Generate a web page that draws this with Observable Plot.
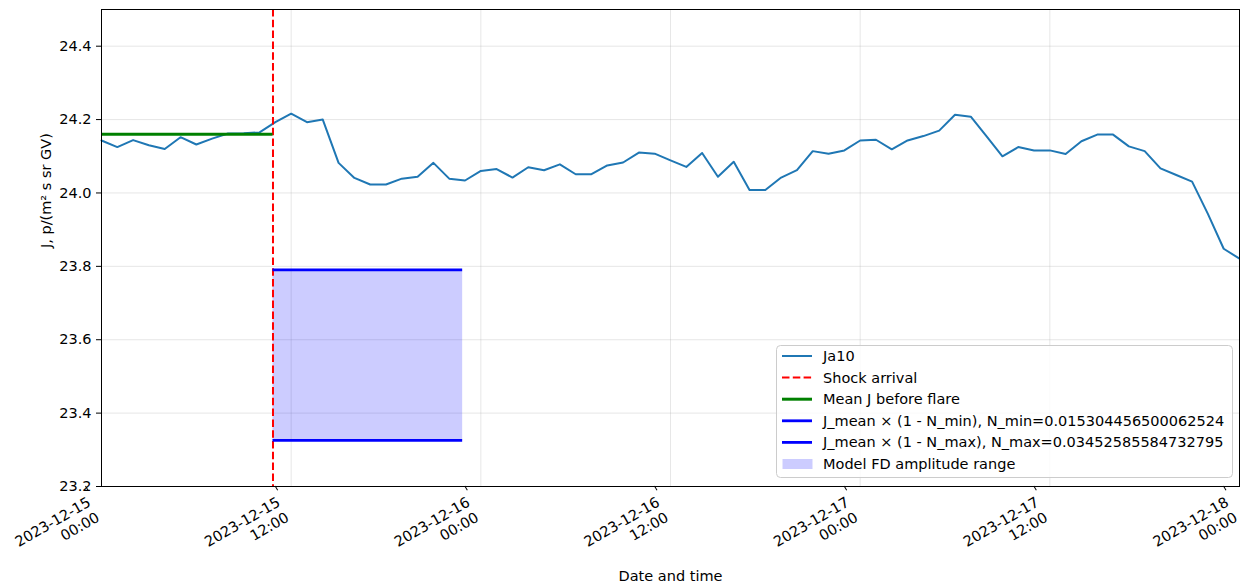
<!DOCTYPE html>
<html>
<head>
<meta charset="utf-8">
<script src="https://cdn.jsdelivr.net/npm/d3@7"></script>
<script src="https://cdn.jsdelivr.net/npm/@observablehq/plot@0.6"></script>
<style>
  html, body { margin: 0; padding: 0; background: #fff; }
  #chart { width: 1240px; height: 584px; overflow: hidden; }
</style>
</head>
<body>
<div id="chart"></div>
<script>
// ---------------- data ----------------
const seriesStart = "2023-12-15T00:00:00Z"; // hourly samples
const ja10Values = [
  24.143, 24.125, 24.144, 24.130, 24.120, 24.152, 24.132, 24.148, 24.162, 24.163,
  24.165, 24.193, 24.216, 24.193, 24.200, 24.082, 24.041, 24.023, 24.023, 24.039,
  24.044, 24.082, 24.039, 24.034, 24.060, 24.065, 24.042, 24.070, 24.062, 24.078,
  24.051, 24.051, 24.075, 24.083, 24.110, 24.107, 24.089, 24.071, 24.109, 24.044,
  24.085, 24.008, 24.008, 24.042, 24.062, 24.114, 24.107, 24.116, 24.143, 24.145,
  24.119, 24.143, 24.155, 24.170, 24.213, 24.208, 24.154, 24.100, 24.125, 24.116,
  24.116, 24.106, 24.141, 24.159, 24.159, 24.127, 24.114, 24.067, 24.049, 24.031,
  23.943, 23.848, 23.821
];
const shockArrival = "2023-12-15T10:51:00Z";
const fdWindowEnd = "2023-12-15T22:51:00Z";
const meanBeforeFlare = 24.16;
const nMin = 0.015304456500062524;
const nMax = 0.03452585584732795;
const xTickLabels = [
  "2023-12-15T00:00:00Z", "2023-12-15T12:00:00Z", "2023-12-16T00:00:00Z",
  "2023-12-16T12:00:00Z", "2023-12-17T00:00:00Z", "2023-12-17T12:00:00Z",
  "2023-12-18T00:00:00Z"
];
const yTicks = [23.2, 23.4, 23.6, 23.8, 24.0, 24.2, 24.4];
const xDomain = ["2023-12-15T00:00:00Z", "2023-12-18T00:00:00Z"];
const yDomain = [23.2, 24.5];
const legendLabels = [
  "Ja10",
  "Shock arrival",
  "Mean J before flare",
  "J_mean \u00d7 (1 - N_min), N_min=0.015304456500062524",
  "J_mean \u00d7 (1 - N_max), N_max=0.03452585584732795",
  "Model FD amplitude range"
];
const xLabel = "Date and time";
const yLabel = "J, p/(m\u00b2 s sr GV)";

// ---------------- build ----------------
const t0 = new Date(seriesStart);
const series = ja10Values.map((v, i) => ({ time: d3.utcHour.offset(t0, i), value: v }));
const shock = new Date(shockArrival);
const fdEnd = new Date(fdWindowEnd);
const jMin = meanBeforeFlare * (1 - nMin);
const jMax = meanBeforeFlare * (1 - nMax);
const xTicks = xTickLabels.map(d => new Date(d));
const fmtX = d3.utcFormat("%Y-%m-%d\n%H:%M");
const FS = 14.5;

const plot = Plot.plot({
  width: 1240,
  height: 584,
  marginLeft: 101,
  marginRight: 1,
  marginTop: 9,
  marginBottom: 98,
  style: { fontFamily: "'DejaVu Sans', sans-serif", fontSize: FS + "px", color: "#000", background: "#fff" },
  x: { type: "utc", domain: xDomain.map(d => new Date(d)) },
  y: { domain: yDomain },
  marks: [
    Plot.gridX(xTicks, { stroke: "#b0b0b0", strokeOpacity: 0.3, strokeWidth: 1 }),
    Plot.gridY(yTicks, { stroke: "#b0b0b0", strokeOpacity: 0.3, strokeWidth: 1 }),
    Plot.rect([{ x1: shock, x2: fdEnd, y1: jMax, y2: jMin }],
      { x1: "x1", x2: "x2", y1: "y1", y2: "y2", fill: "blue", fillOpacity: 0.2 }),
    Plot.line(series, { x: "time", y: "value", stroke: "#1f77b4", strokeWidth: 2 }),
    Plot.ruleX([shock], { stroke: "red", strokeWidth: 2, strokeDasharray: "7.5,3.3" }),
    Plot.ruleY([meanBeforeFlare], { x1: t0, x2: shock, stroke: "green", strokeWidth: 3 }),
    Plot.ruleY([jMin, jMax], { x1: shock, x2: fdEnd, stroke: "blue", strokeWidth: 2.8 }),
    Plot.frame({ stroke: "#000", strokeWidth: 1 }),
    Plot.axisY(yTicks, { tickFormat: d3.format(".1f"), tickSize: 5, tickPadding: 5, label: null, stroke: "#000", fontSize: FS }),
    Plot.axisX(xTicks, { tickFormat: fmtX, tickSize: 5, tickPadding: 3, rotate: -30, textAnchor: "end",
      lineAnchor: "top", lineHeight: 1.2, dx: -16, dy: 0, label: null, stroke: "#000", fontSize: FS }),
    Plot.text([xLabel], { frameAnchor: "bottom", dy: 90, lineAnchor: "middle", fontSize: FS }),
    Plot.text([yLabel], { frameAnchor: "left", rotate: -90, dx: -55, lineAnchor: "middle", fontSize: FS })
  ]
});
document.getElementById("chart").appendChild(plot);

// ---------------- legend ----------------
const svg = d3.select(plot);
const lg = svg.append("g").attr("font-family", "'DejaVu Sans', sans-serif").attr("font-size", FS)
  .attr("text-anchor", "start");
lg.append("rect").attr("x", 776.5).attr("y", 345.5).attr("width", 456).attr("height", 132)
  .attr("rx", 4).attr("fill", "#fff").attr("fill-opacity", 0.8).attr("stroke", "#cccccc");
const handleStyles = [
  { stroke: "#1f77b4", width: 2 },
  { stroke: "red", width: 2, dash: "7.5,3.3" },
  { stroke: "green", width: 3 },
  { stroke: "blue", width: 2.8 },
  { stroke: "blue", width: 2.8 },
  { patch: true }
];
legendLabels.forEach((label, i) => {
  const cy = 356 + i * 21.6;
  const st = handleStyles[i];
  if (st.patch) {
    lg.append("rect").attr("x", 782.5).attr("y", cy - 5).attr("width", 30).attr("height", 10)
      .attr("fill", "blue").attr("fill-opacity", 0.2);
  } else {
    lg.append("line").attr("x1", 782).attr("x2", 812).attr("y1", cy).attr("y2", cy)
      .attr("stroke", st.stroke).attr("stroke-width", st.width)
      .attr("stroke-dasharray", st.dash || null);
  }
  lg.append("text").attr("x", 823).attr("y", cy).attr("dy", "0.35em")
    .attr("text-anchor", "start").attr("fill", "#000").text(label);
});
</script>
</body>
</html>
